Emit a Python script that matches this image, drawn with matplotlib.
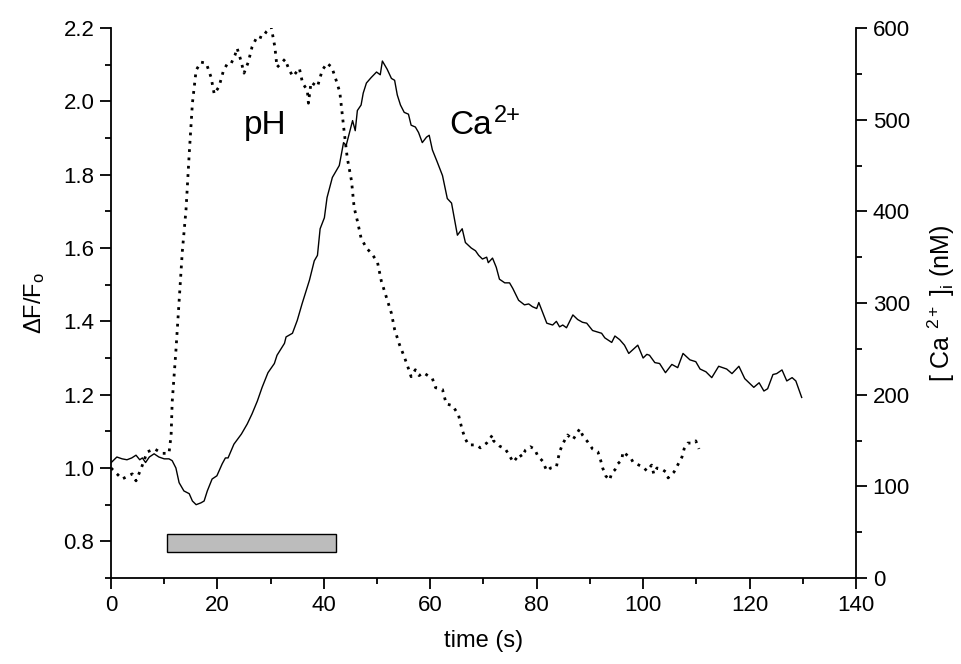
import matplotlib
matplotlib.use("Agg")
import matplotlib.pyplot as plt
from matplotlib.ticker import MultipleLocator

plt.rcParams['font.family'] = ['Liberation Sans', 'DejaVu Sans']
plt.rcParams['mathtext.fontset'] = 'custom'
plt.rcParams['mathtext.rm'] = 'Liberation Sans'
plt.rcParams['mathtext.it'] = 'Liberation Sans:italic'

# pH trace (dotted), in delta F / F0 units (left axis)
ph_time = [0, 2.1, 4, 4.7, 5.7, 6.8, 8.2, 9.6, 10.9, 11.3, 11.5, 12.2, 12.8, 13.4, 14.1,
           14.7, 15.3, 16, 16.9, 17.9, 18.8, 19.4, 20.3, 21.1, 21.9, 22.6, 23.3, 23.7,
           24.4, 25.0, 25.8, 26.5, 27.5, 28.4, 29.2, 30.1, 30.8, 31.2, 32, 32.7, 33.5,
           34.2, 35.4, 36, 36.9, 37.1, 37.6, 38.8, 39.7, 40.6, 41.5, 42.3, 43.0, 43.8,
           44.4, 45.2, 45.7, 46.3, 47, 48, 49.1, 50.1, 50.8, 51.7, 52.7, 53.3, 54.2,
           55.1, 56.1, 56.4, 57.2, 57.9, 58.7, 60.4, 61, 62.3, 63, 64.2, 65.3, 66, 66.6,
           67.2, 68.7, 69.4, 70.6, 71.7, 71.9, 73, 74.1, 74.7, 75.6, 76.8, 77.2, 77.9,
           78.8, 79.6, 80.2, 81.1, 81.9, 82.6, 83.7, 84.3, 84.9, 85.8, 86.8, 87.5, 88.1,
           88.6, 89.6, 90.5, 91.5, 92, 92.4, 93, 93.7, 94.1, 94.7, 95.2, 96, 96.2, 96.9,
           97.7, 98.1, 99.2, 100, 100.7, 101.6, 102, 102.6, 103.5, 104.3, 104.7, 105.8,
           106.5, 107.3, 107.7, 108.4, 109.3, 109.9, 110.5]
ph_ratio = [1.00, 0.97, 0.984, 0.965, 1.0, 1.044, 1.052, 1.04, 1.04, 1.09, 1.18, 1.32,
            1.455, 1.59, 1.705, 1.857, 1.995, 2.085, 2.107, 2.104, 2.066, 2.02, 2.04,
            2.082, 2.104, 2.104, 2.126, 2.145, 2.112, 2.077, 2.107, 2.148, 2.178, 2.173,
            2.19, 2.203, 2.148, 2.093, 2.104, 2.115, 2.085, 2.068, 2.09, 2.05, 2.03,
            1.995, 2.052, 2.04, 2.085, 2.104, 2.093, 2.058, 2.025, 1.92, 1.846, 1.783,
            1.71, 1.674, 1.627, 1.6, 1.583, 1.56, 1.51, 1.468, 1.422, 1.378, 1.337,
            1.304, 1.263, 1.249, 1.268, 1.252, 1.26, 1.244, 1.219, 1.214, 1.175, 1.17,
            1.145, 1.104, 1.079, 1.063, 1.063, 1.055, 1.068, 1.09, 1.074, 1.06, 1.052,
            1.038, 1.016, 1.038, 1.03, 1.049, 1.058, 1.052, 1.033, 1.019, 0.992, 1.0,
            1.003, 1.044, 1.066, 1.09, 1.077, 1.093, 1.107, 1.09, 1.071, 1.052, 1.044,
            1.022, 1.0, 0.978, 0.967, 0.986, 0.995, 1.011, 1.022, 1.044, 1.036, 1.027,
            1.016, 1.008, 1.003, 0.992, 1.008, 0.984, 1.0, 0.997, 0.989, 0.973, 0.989,
            1.008, 1.03, 1.052, 1.068, 1.068, 1.074, 1.052]

# Ca2+ trace (solid), in nM (right axis)
ca_time = [0, 1.1, 2.1, 3, 3.9, 4.7, 5.4, 5.9, 6.5, 7.2, 8.1, 9, 10, 10.9, 11.5, 12.2,
           12.8, 13.7, 14.7, 15.3, 16, 16.9, 17.5, 18.1, 19, 19.9, 20.9, 21.5, 22, 23.1,
           24.5, 25.6, 26.5, 27.5, 28.4, 29.5, 30.7, 31.2, 32.6, 32.9, 34.1, 35, 35.9,
           37.3, 38.2, 38.8, 39.3, 40.1, 40.6, 41.6, 42.9, 43.7, 44.2, 45.4, 45.9, 46.3,
           47, 47.4, 48, 48.9, 49.9, 50.6, 51, 51.9, 52.7, 53.3, 53.8, 54.4, 55.1, 55.9,
           56.4, 57.2, 57.8, 58.5, 59.3, 59.8, 60.4, 61.3, 62.3, 63.2, 64, 64.5, 65.1,
           66, 66.6, 67.7, 68.5, 69.1, 69.8, 70.6, 70.9, 71.7, 72.4, 73, 74, 74.9, 75.5,
           76.6, 77.7, 78.5, 79.2, 80, 80.4, 81.1, 81.9, 83, 83.7, 84.3, 84.9, 85.6,
           86.8, 87.7, 88.6, 89.4, 90.5, 92.2, 92.8, 94.1, 94.7, 95.6, 96.5, 97.3, 99,
           100, 100.7, 101.2, 102.2, 103.1, 104.2, 105.4, 106.5, 107.5, 108.8, 109.9,
           110.7, 111.8, 112.9, 114.2, 115.7, 116.7, 118, 119.1, 119.9, 120.8, 121.8,
           122.7, 123.4, 124.4, 125.1, 126.1, 127, 128, 128.7, 129.8]
ca_nm = [125.7, 132, 130, 129, 131, 134, 129, 131, 126, 132, 135.5, 132, 130, 130, 128,
         120, 104, 95, 92, 84, 80, 82, 84, 95, 108, 111.5, 124.6, 131, 131, 146, 157, 168,
         179, 193, 208, 224, 234, 243, 256, 263, 267, 281, 299, 325, 346, 352, 381, 393,
         415, 437, 450, 475, 472, 499, 488, 510, 516, 529, 540, 546, 552, 549, 564, 555,
         545, 543, 527, 516, 508, 506, 494, 492, 486, 475, 481, 483, 467, 454, 439, 414,
         409, 393, 374, 381, 366, 360, 357, 352, 348, 350, 344, 349, 339, 326, 322, 322,
         316, 303, 298, 299, 296, 294, 300.5, 290, 278, 276, 280, 274, 276, 273, 287,
         282, 279, 278, 270, 267, 262, 257, 264, 260, 254, 245, 254, 240, 244, 243, 235,
         234, 224, 233, 229.5, 245, 238, 236, 228, 225, 218.6, 231, 228, 223, 231, 217.5,
         213, 208, 213, 204, 206.5, 222, 223, 227, 215, 218.6, 215, 197]

# stimulus bar
stim_start = 10.5
stim_end = 42.3
stim_level = 0.795

fig = plt.figure(figsize=(9.61, 6.64), dpi=100)
ax = fig.add_axes([0.1155, 0.1295, 0.7752, 0.8283])
ax2 = ax.twinx()

ax.plot(ph_time, ph_ratio, color='black', linewidth=2.0, linestyle=(0, (1, 2.0)))
ax2.plot(ca_time, ca_nm, color='black', linewidth=1.0)

ax.barh(stim_level, stim_end - stim_start, left=stim_start, height=0.05,
        color='#bcbcbc', edgecolor='black', linewidth=1.0)

ax.set_xlim(0, 140)
ax.set_ylim(0.7, 2.2)
ax2.set_ylim(0, 600)

ax.xaxis.set_major_locator(MultipleLocator(20))
ax.xaxis.set_minor_locator(MultipleLocator(10))
ax.yaxis.set_minor_locator(MultipleLocator(0.1))
ax2.yaxis.set_major_locator(MultipleLocator(100))
ax2.yaxis.set_minor_locator(MultipleLocator(50))
ax.set_yticks([0.8, 1.0, 1.2, 1.4, 1.6, 1.8, 2.0, 2.2])
ax.yaxis.set_major_formatter(plt.FormatStrFormatter('%.1f'))

for a in (ax, ax2):
    a.spines['top'].set_visible(False)
    for s in a.spines.values():
        s.set_linewidth(1.3)
    a.tick_params(which='major', direction='out', length=8, width=1.3, labelsize=16, pad=4)
    a.tick_params(which='minor', direction='out', length=4.5, width=1.3)
ax.spines['right'].set_visible(False)
ax2.spines['left'].set_visible(False)
ax2.spines['bottom'].set_visible(False)

ax.set_xlabel('time (s)', fontsize=17, labelpad=10)
ax.set_ylabel(r'$\Delta$F/F$_{\mathrm{o}}$', fontsize=17, labelpad=12)
ax2.set_ylabel(r'[ Ca $^{2+}$ ]$_{\mathrm{i}}$ (nM)', fontsize=18, labelpad=11)

ax.text(24.9, 1.935, 'pH', fontsize=24, va='center', ha='left')
ax.text(63.5, 1.935, 'Ca', fontsize=24, va='center', ha='left')
ax.text(72.0, 1.96, '2+', fontsize=17, va='center', ha='left')

fig.savefig('out.png', dpi=100, facecolor='white')
